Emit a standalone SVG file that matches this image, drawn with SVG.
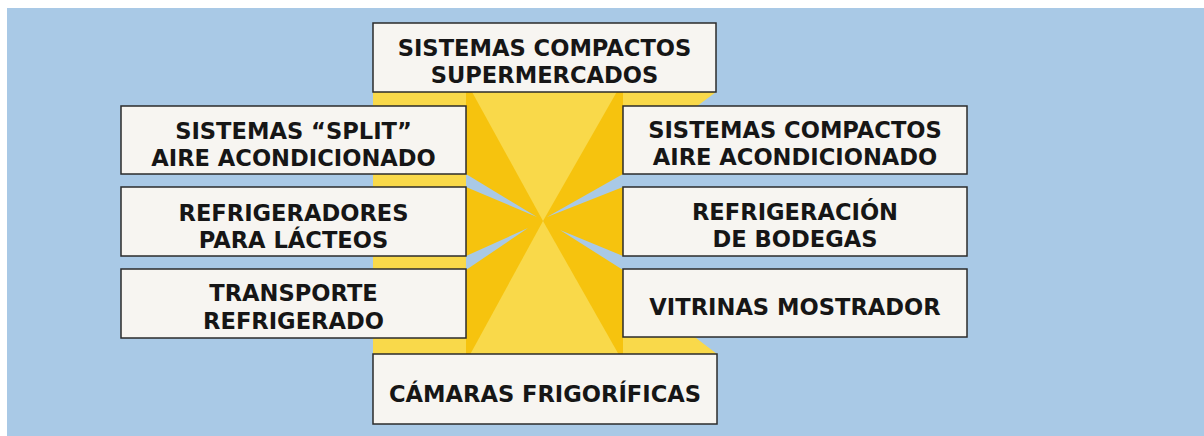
<svg xmlns="http://www.w3.org/2000/svg" width="1204" height="436" viewBox="0 0 1204 436">
  <style>
    .box { fill: #f7f5f1; stroke: #2b2b2b; stroke-width: 1.5; }
    .lbl { font-family: "DejaVu Sans", "Liberation Sans", sans-serif; font-weight: 700; font-size: 22.6px; fill: #161616; text-anchor: middle; }
    .light { fill: #f9d94a; }
    .dark { fill: #f6c30e; }
    .gap { fill: #a9c9e6; }
  </style>
  <rect x="0" y="0" width="1204" height="436" fill="#ffffff"/>
  <rect x="7" y="8" width="1197" height="428" fill="#a9c9e6"/>

  <g id="connectors">
    <polygon class="light" points="373,92 716,92 543,221 717,354 373,354"/>
    <polygon class="dark" points="543,221 466,81 466,362"/>
    <polygon class="dark" points="543,221 623,81 623,362"/>
    <polygon class="gap" points="466,174 537,217 466,187"/>
    <polygon class="gap" points="466,256 528,228 466,270"/>
    <polygon class="gap" points="623,174 547,217 623,187"/>
    <polygon class="gap" points="623,256 560,230 623,270"/>
  </g>

  <g id="node-top">
    <rect class="box" x="373" y="23" width="343" height="69"/>
    <text class="lbl" x="544.5" y="55.5">SISTEMAS COMPACTOS</text>
    <text class="lbl" x="544.5" y="82.5">SUPERMERCADOS</text>
  </g>
  <g id="node-split">
    <rect class="box" x="121" y="106" width="345" height="68"/>
    <text class="lbl" x="293.5" y="138.5">SISTEMAS “SPLIT”</text>
    <text class="lbl" x="293.5" y="165.8">AIRE ACONDICIONADO</text>
  </g>
  <g id="node-lacteos">
    <rect class="box" x="121" y="187" width="345" height="69"/>
    <text class="lbl" x="293.5" y="220.5">REFRIGERADORES</text>
    <text class="lbl" x="293.5" y="248">PARA LÁCTEOS</text>
  </g>
  <g id="node-transporte">
    <rect class="box" x="121" y="269" width="345" height="69"/>
    <text class="lbl" x="293.5" y="301">TRANSPORTE</text>
    <text class="lbl" x="293.5" y="328.6">REFRIGERADO</text>
  </g>
  <g id="node-compactos-aire">
    <rect class="box" x="623" y="106" width="344" height="68"/>
    <text class="lbl" x="795" y="137.5">SISTEMAS COMPACTOS</text>
    <text class="lbl" x="795" y="164.8">AIRE ACONDICIONADO</text>
  </g>
  <g id="node-bodegas">
    <rect class="box" x="623" y="187" width="344" height="69"/>
    <text class="lbl" x="795" y="219.5">REFRIGERACIÓN</text>
    <text class="lbl" x="795" y="247">DE BODEGAS</text>
  </g>
  <g id="node-vitrinas">
    <rect class="box" x="623" y="269" width="344" height="68"/>
    <text class="lbl" x="795" y="315">VITRINAS MOSTRADOR</text>
  </g>
  <g id="node-camaras">
    <rect class="box" x="373" y="354" width="344" height="70"/>
    <text class="lbl" x="545" y="402">CÁMARAS FRIGORÍFICAS</text>
  </g>
</svg>
